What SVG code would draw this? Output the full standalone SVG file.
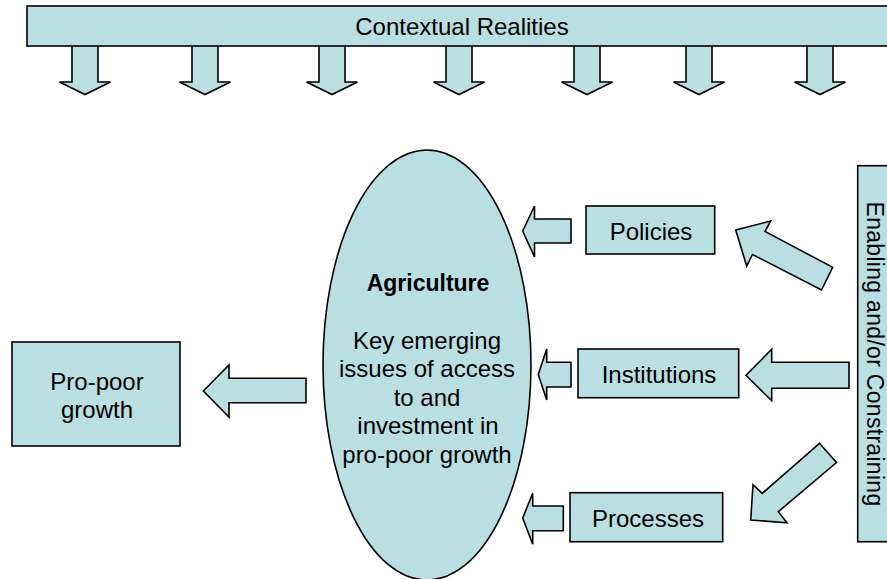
<svg xmlns="http://www.w3.org/2000/svg" width="887" height="579" viewBox="0 0 887 579">
<style>
.s{fill:#BADFE2;stroke:#000;stroke-width:1.6;stroke-linejoin:miter}
.t{font-family:"Liberation Sans",Arial,sans-serif;font-size:24px;fill:#000;text-anchor:middle}
.b{font-weight:bold;font-size:23px}
</style>
<rect width="887" height="579" fill="#fff"/>
<g id="connectors">
  <g id="down-arrows">
    <path class="s" d="M72,46 V82 H59.5 L85,94.5 L110.5,82 H98 V46"/>
    <path class="s" d="M192,46 V82 H179.5 L205,94.5 L230.5,82 H218 V46"/>
    <path class="s" d="M319,46 V82 H306.5 L332,94.5 L357.5,82 H345 V46"/>
    <path class="s" d="M446,46 V82 H433.5 L459,94.5 L484.5,82 H472 V46"/>
    <path class="s" d="M574,46 V82 H561.5 L587,94.5 L612.5,82 H600 V46"/>
    <path class="s" d="M686,46 V82 H673.5 L699,94.5 L724.5,82 H712 V46"/>
    <path class="s" d="M807,46 V82 H794.5 L820,94.5 L845.5,82 H833 V46"/>
  </g>
  <polygon id="arrow-agri-propoor" class="s" points="203.3,391 229,365 229,378.3 306,378.3 306,402.7 229,402.7 229,417"/>
  <polygon id="arrow-policies-agri" class="s" points="522.7,231 534.5,206 534.5,219 571,219 571,243 534.5,243 534.5,257"/>
  <polygon id="arrow-institutions-agri" class="s" points="538.3,374.5 546.7,349 546.7,362.3 571,362.3 571,387 546.7,387 546.7,400"/>
  <polygon id="arrow-processes-agri" class="s" points="522.7,518 532.7,493.3 532.7,506 563.3,506 563.3,530.7 532.7,530.7 532.7,544.3"/>
  <polygon id="arrow-enabling-institutions" class="s" points="746,375.3 771.7,349.3 771.7,362.3 849,362.3 849,388.3 771.7,388.3 771.7,400.7"/>
  <polygon id="arrow-enabling-policies" class="s" points="735.7,230 770.7,221 765,231.5 832.7,267.3 821.5,290 752.5,254.5 746.7,266"/>
  <polygon id="arrow-enabling-processes" class="s" points="750.7,520 753,484.7 762.3,493.3 819.5,443.3 836.5,462.5 778.3,511.7 787,522.7"/>
</g>
<g id="contextual">
  <rect class="s" x="27" y="6" width="880" height="40"/>
  <text class="t" x="462" y="35">Contextual Realities</text>
</g>
<g id="enabling">
  <rect class="s" x="857.7" y="165.7" width="60" height="376"/>
  <text class="t" style="text-anchor:start;font-size:23px;letter-spacing:0.3px" transform="translate(866.5,201.5) rotate(90)">Enabling and/or Constraining</text>
</g>
<g id="agriculture">
  <ellipse class="s" cx="427" cy="365" rx="104" ry="215"/>
  <text class="t b" x="428" y="290.5">Agriculture</text>
  <text class="t" x="427" y="348.5">Key emerging</text>
  <text class="t" x="427" y="377">issues of access</text>
  <text class="t" x="427" y="405.5">to and</text>
  <text class="t" x="428" y="434">investment in</text>
  <text class="t" x="427" y="462.5">pro-poor growth</text>
</g>
<g id="propoor">
  <rect class="s" x="12" y="342" width="168" height="104"/>
  <text class="t" x="97" y="390">Pro-poor</text>
  <text class="t" x="97" y="417.5">growth</text>
</g>
<g id="policies">
  <rect class="s" x="586" y="206" width="128.7" height="48"/>
  <text class="t" x="651" y="240">Policies</text>
</g>
<g id="institutions">
  <rect class="s" x="578" y="349" width="160.7" height="48.7"/>
  <text class="t" x="659" y="383.3">Institutions</text>
</g>
<g id="processes">
  <rect class="s" x="570" y="492.7" width="152.7" height="49"/>
  <text class="t" x="648" y="527.3">Processes</text>
</g>
</svg>
